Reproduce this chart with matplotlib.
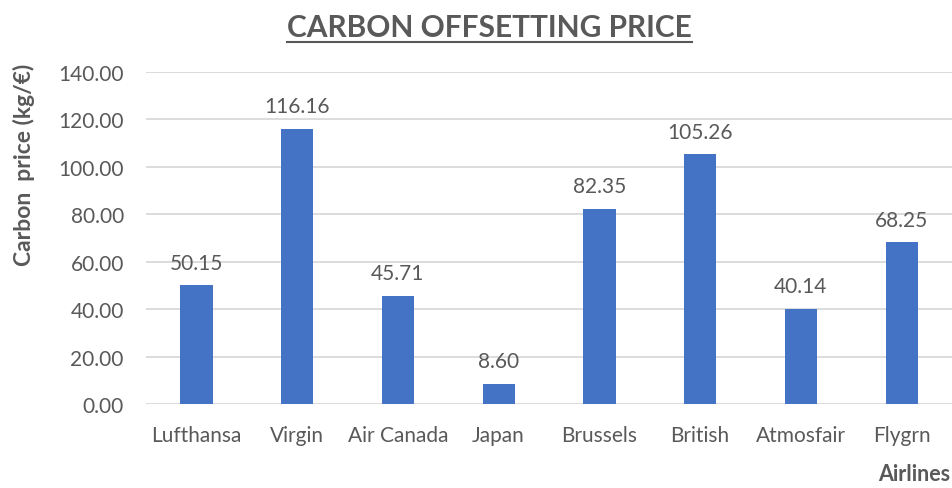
import matplotlib
matplotlib.use('Agg')
import matplotlib.pyplot as plt
from matplotlib.lines import Line2D

plt.rcParams['font.family'] = ['Lato', 'DejaVu Sans']

# 数据
airlines = ["Lufthansa", "Virgin", "Air Canada", "Japan", "Brussels", "British", "Atmosfair", "Flygrn"]
prices = [50.15, 116.16, 45.71, 8.60, 82.35, 105.26, 40.14, 68.25]
yticks = [0, 20, 40, 60, 80, 100, 120, 140]

txt = '#595959'
blue = '#4472C4'
grid = '#D9D9D9'

fig = plt.figure(figsize=(9.52, 4.89), dpi=100)
ax = fig.add_axes([0.1534, 0.1718, 0.8466, 0.6789])

x = range(len(airlines))
bars = ax.bar(x, prices, width=0.32, color=blue, zorder=3)
for b, v in zip(bars, prices):
    ax.annotate(f"{v:.2f}", (b.get_x() + b.get_width() / 2, v), xytext=(0, 9),
                textcoords='offset points', ha='center', va='bottom',
                fontsize=15, color=txt)

ax.set_xlim(-0.5, len(airlines) - 0.5)
ax.set_ylim(0, 140)
ax.set_yticks(yticks)
ax.set_yticklabels([f"{t:.2f}" for t in yticks])
ax.set_xticks(list(x))
ax.set_xticklabels(airlines)
ax.tick_params(axis='both', length=0, labelsize=15, colors=txt)
ax.tick_params(axis='y', pad=16)
ax.tick_params(axis='x', pad=15)
ax.grid(axis='y', color=grid, linewidth=1.3, zorder=0)
for s in ax.spines.values():
    s.set_visible(False)

fig.text(24 / 952, 1 - 165 / 489, "Carbon  price (kg/€)", rotation=90, ha='center', va='center',
         fontsize=16.5, fontweight='bold', color=txt)
fig.text(0.998, 0.008, "Airlines", ha='right', va='bottom', fontsize=15.5,
         fontweight='bold', color=txt)

title = fig.text(0.514, 0.925, "CARBON OFFSETTING PRICE", ha='center', va='baseline',
                 fontsize=21.5, fontweight='bold', color=txt)

# 标题下划线
fig.canvas.draw()
bb = title.get_window_extent(fig.canvas.get_renderer()).transformed(fig.transFigure.inverted())
uy = 0.925 - 0.012
fig.add_artist(Line2D([bb.x0, bb.x1], [uy, uy], color=txt, linewidth=1.5,
                      transform=fig.transFigure))

fig.savefig('out.png', dpi=100)
